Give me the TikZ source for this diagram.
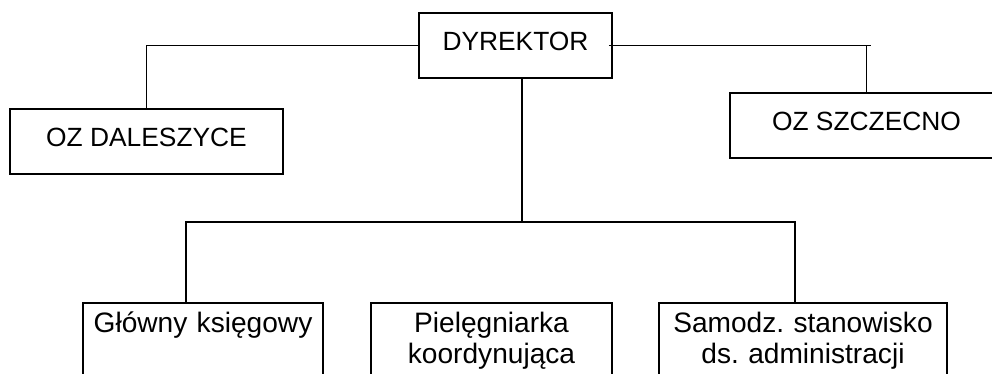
\documentclass[tikz,border=0pt]{standalone}
\usepackage{fontspec}
\setmainfont{Liberation Sans}
\frenchspacing
\begin{document}
\begin{tikzpicture}[x=0.02cm,y=-0.02cm,line width=0.9pt,
     unit/.style={draw,minimum width=5.46cm,minimum height=1.3cm,text depth=0.16cm,inner sep=0pt,font=\fontsize{15}{18}\selectfont},
     dept/.style={draw,anchor=north,inner sep=0pt,text height=0.59cm,text depth=3cm,align=center,font=\fontsize{16}{17.6}\selectfont}]
     		\clip (0,0) rectangle (992,374);
     		\node[unit,minimum width=3.86cm] (dyr) at (515.5,45.5) {DYREKTOR};
     		\node[unit] (dal) at (146.5,141.5) {OZ DALESZYCE};
     		\node[unit] (szc) at (866.5,125.5) {OZ SZCZECNO};
     		\node[dept,text width=4.8cm] (glo) at (203,302) {Główny księgowy};
     		\node[dept,text width=4.82cm] (pie) at (491.5,302) {Pielęgniarka\\koordynująca};
     		\node[dept,text width=5.76cm] (sam) at (803,302) {Samodz. stanowisko\\ds. administracji};
     		\coordinate (rtee) at (dyr.east -| szc.north);
     		\coordinate (split) at (522,222);
     		\coordinate (busL) at (186,222);
     		\coordinate (busR) at (795,222);
     		\draw (dyr.west) -| (dal.north);
     		\draw ([xshift=-0.08cm]dyr.east) -- ([xshift=0.08cm]rtee);
     		\draw (rtee) -- (szc.north);
     		\draw (split |- dyr.south) -- (split);
     		\draw (busL |- glo.north) -- (busL) -- (busR) -- (busR |- sam.north);
		\end{tikzpicture}
\end{document}
